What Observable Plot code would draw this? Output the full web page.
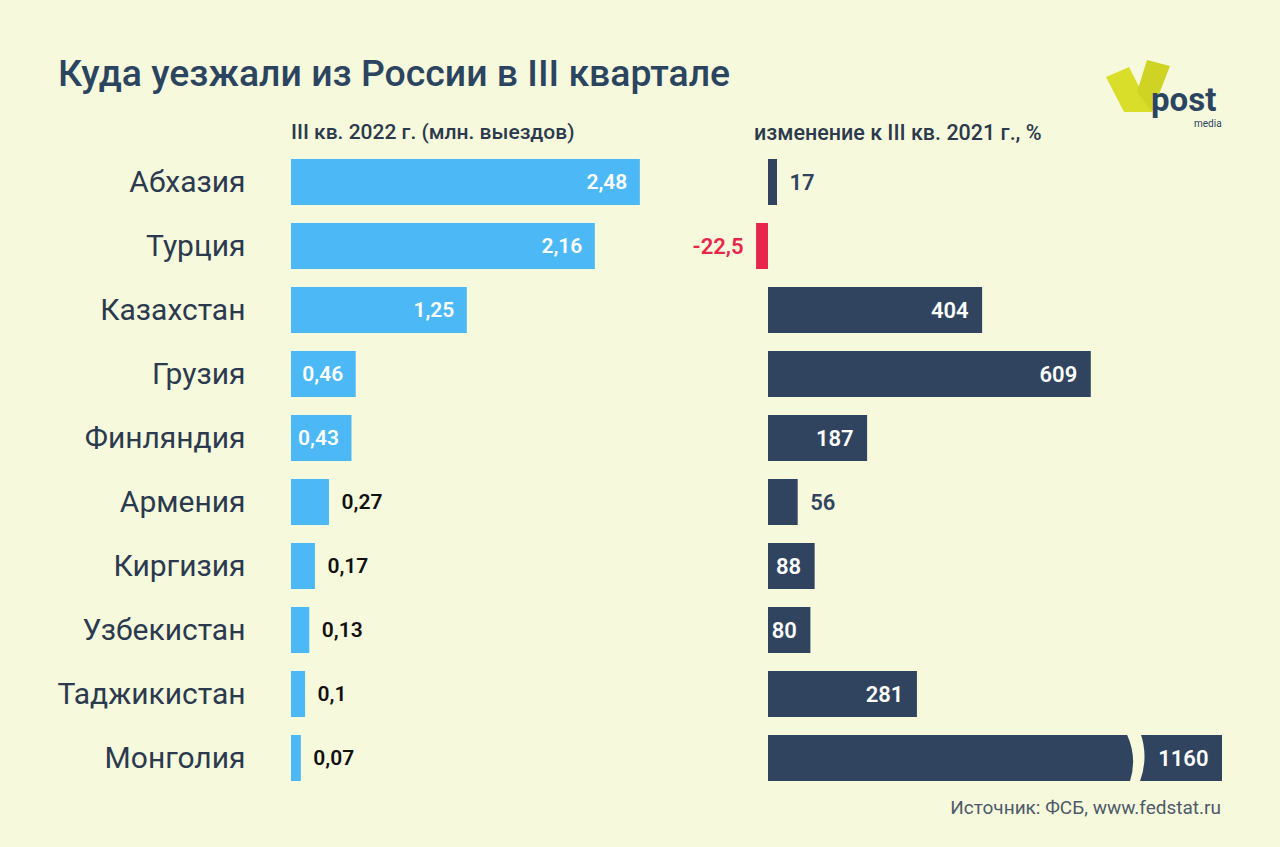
<!DOCTYPE html>
<html><head><meta charset="utf-8">
<script src="https://cdn.jsdelivr.net/npm/d3@7"></script>
<script src="https://cdn.jsdelivr.net/npm/@observablehq/plot@0.6"></script>
<style>
html,body{margin:0;padding:0;background:#f7f9dc;}
#wrap{position:relative;width:1280px;height:847px;overflow:hidden;background:#f7f9dc;font-family:Roboto,"Noto Sans",sans-serif;}
#wrap svg.chart{position:absolute;left:0;top:0;}
.title{position:absolute;left:58px;top:55px;font-size:37.4px;font-weight:500;color:#2b4560;white-space:nowrap;line-height:1;}
.hdr{position:absolute;top:122px;font-size:21px;font-weight:500;color:#2b3a4d;white-space:nowrap;line-height:1;}
.src{position:absolute;right:59px;top:798px;font-size:19px;color:#4f5a6a;white-space:nowrap;line-height:1;}
#logo{position:absolute;left:1095px;top:55px;}
</style></head>
<body>
<div id="wrap">
  <div class="title">Куда уезжали из России в III квартале</div>
  <div class="hdr" style="left:291px">III кв. 2022 г. (млн. выездов)</div>
  <div class="hdr" style="left:754px;font-size:21.5px">изменение к III кв. 2021 г., %</div>
  <div class="src">Источник: ФСБ, www.fedstat.ru</div>
  <svg id="logo" width="135" height="75" viewBox="1095 55 135 75">
    <polygon points="1106,77 1129,67 1152,112 1124,112" fill="#d9de2b"/>
    <polygon points="1147,60 1170,66 1152,112 1137,92" fill="#cfd424"/>
    <text x="1151" y="111" font-family="Roboto, sans-serif" font-weight="700" font-size="33" fill="#2b4560">post</text>
    <text x="1194" y="127" font-family="Roboto, sans-serif" font-size="10" fill="#2b4560">media</text>
  </svg>
</div>
<script>
const countries = ["Абхазия","Турция","Казахстан","Грузия","Финляндия","Армения","Киргизия","Узбекистан","Таджикистан","Монголия"];
const trips2022 = [2.48, 2.16, 1.25, 0.46, 0.43, 0.27, 0.17, 0.13, 0.1, 0.07];
const change2021 = [17, -22.5, 404, 609, 187, 56, 88, 80, 281, 1160];
const breakValue = 692;

const rows = countries.map((c, i) => ({country: c, trips: trips2022[i], change: change2021[i]}));
const fmt = v => String(v).replace(".", ",");
const font = "Roboto, 'Noto Sans', sans-serif";
const navy = "#30445f", blue = "#4cb9f6", red = "#e6264b";

const left = Plot.plot({
  width: 1280, height: 847,
  marginLeft: 291, marginRight: 567, marginTop: 141, marginBottom: 48,
  x: {domain: [0, 3], axis: null},
  y: {domain: countries, padding: 0.28, label: null, axis: null},
  style: {background: "transparent", fontFamily: font, color: "#2b3a4f"},
  marks: [
    Plot.axisY({tickSize: 0, tickPadding: 46, fontSize: 30, label: null, fill: "#2b3a4f"}),
    Plot.barX(rows, {x: "trips", y: "country", fill: blue}),
    Plot.text(rows.filter(d => d.trips >= 0.4), {x: "trips", y: "country", text: d => fmt(d.trips), textAnchor: "end", dx: -13, fill: "white", fontSize: 21, fontWeight: 600}),
    Plot.text(rows.filter(d => d.trips < 0.4), {x: "trips", y: "country", text: d => fmt(d.trips), textAnchor: "start", dx: 12, fill: "#111", fontSize: 21, fontWeight: 600})
  ]
});

const breakMark = (index, scales, values, dimensions) => {
  const y = scales.y;
  const bw = typeof y.bandwidth === "function" ? y.bandwidth() : 46;
  const top = y("Монголия") - 1, bot = top + bw + 2, mid = (top + bot) / 2;
  const c = scales.x(breakValue);
  const p = `M${c-8},${top} Q${c+3},${mid} ${c-5},${bot} L${c+5},${bot} Q${c+14},${mid} ${c+6},${top} Z`;
  return d3.create("svg:path").attr("d", p).attr("fill", "#f7f9dc").node();
};

const right = Plot.plot({
  width: 1280, height: 847,
  marginLeft: 715, marginRight: 58, marginTop: 141, marginBottom: 48,
  x: {domain: [-100, 856.6], clamp: true, axis: null},
  y: {domain: countries, padding: 0.28, label: null, axis: null},
  color: {type: "identity"},
  style: {background: "transparent", fontFamily: font},
  marks: [
    Plot.barX(rows, {x: "change", y: "country", fill: d => d.change < 0 ? red : navy}),
    breakMark,
    Plot.text(rows.filter(d => d.change >= 70), {x: "change", y: "country", text: d => fmt(d.change), textAnchor: "end", dx: -14, fill: "white", fontSize: 22, fontWeight: 600}),
    Plot.text(rows.filter(d => d.change >= 0 && d.change < 70), {x: "change", y: "country", text: d => fmt(d.change), textAnchor: "start", dx: 12, fill: navy, fontSize: 22, fontWeight: 600}),
    Plot.text(rows.filter(d => d.change < 0), {x: "change", y: "country", text: d => fmt(d.change), textAnchor: "end", dx: -13, fill: red, fontSize: 22, fontWeight: 600})
  ]
});

for (const el of [left, right]) { el.classList.add("chart"); document.getElementById("wrap").appendChild(el); }
</script>
</body></html>
